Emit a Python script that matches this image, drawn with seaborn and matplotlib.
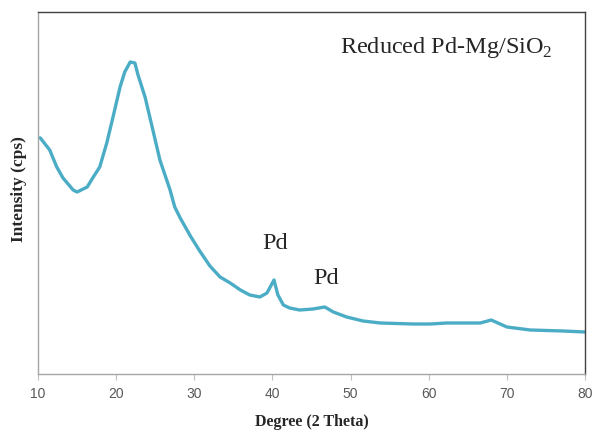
import pandas as pd
import matplotlib.pyplot as plt
import seaborn as sns

# values (intensity in arbitrary units)
two_theta = [10.0, 10.3, 11.5, 12.4, 13.2, 14.5, 15.0, 16.3, 17.0, 17.9,
             18.8, 19.6, 20.5, 21.1, 21.8, 22.4, 22.8, 23.7, 24.7, 25.6,
             26.9, 27.5, 28.2, 29.5, 30.7, 32.0, 33.3, 34.6, 35.9, 37.1,
             38.4, 39.3, 40.2, 40.7, 41.4, 42.2, 43.5, 45.2, 46.7, 47.8,
             49.5, 51.6, 53.8, 58.0, 60.2, 62.3, 64.4, 66.6, 68.0, 70.0,
             73.0, 77.2, 80.0]
intensity = [236, 236, 224, 207, 196, 184, 182, 187, 196, 207,
             231, 257, 287, 302, 312, 311, 299, 277, 244, 214,
             184, 167, 156, 138, 123, 108, 97, 91, 84, 79,
             77, 81, 94, 79, 69, 66, 64, 65, 67, 62,
             57, 53, 51, 50, 50, 51, 51, 51, 54, 47,
             44, 43, 42]
x_ticks = [10, 20, 30, 40, 50, 60, 70, 80]

dat = pd.DataFrame({'deg': two_theta, 'cps': intensity})

sns.set_style('white')
plt.rcParams['font.family'] = ['Liberation Serif', 'DejaVu Serif']
plt.rcParams['mathtext.fontset'] = 'custom'
plt.rcParams['mathtext.rm'] = 'Liberation Serif'

fig = plt.figure(figsize=(5.92, 4.30), dpi=100)
ax = fig.add_axes([38/592, 56/430, 547/592, 362/430])

sns.lineplot(data=dat, x='deg', y='cps', color='#4BACC6', linewidth=2.4, ax=ax)

ax.set_xlim(10, 80)
ax.set_ylim(0, 362)
ax.set_xticks(x_ticks)
ax.set_xticklabels([str(t) for t in x_ticks], family='Liberation Sans', fontsize=10, color='#595959')
ax.set_yticks([])
ax.tick_params(axis='x', bottom=True, length=4, color='#BFBFBF', pad=5)

for side in ['left', 'bottom']:
    ax.spines[side].set_color('#A6A6A6')
for side in ['top', 'right']:
    ax.spines[side].set_color('#404040')
for s in ax.spines.values():
    s.set_linewidth(1)

ax.set_xlabel('Degree (2 Theta)', fontsize=11.5, fontweight='bold', labelpad=10)
ax.set_ylabel('Intensity (cps)', fontsize=12.5, fontweight='bold')
ax.yaxis.set_label_coords(-0.02, 0.51)

ax.text(62.2, 326, 'Reduced Pd-Mg/SiO$_2$', fontsize=17.5, ha='center', va='center')
ax.text(40.4, 130, 'Pd', fontsize=17.5, ha='center', va='center')
ax.text(46.9, 96, 'Pd', fontsize=17.5, ha='center', va='center')

fig.savefig('out.png', dpi=100)
